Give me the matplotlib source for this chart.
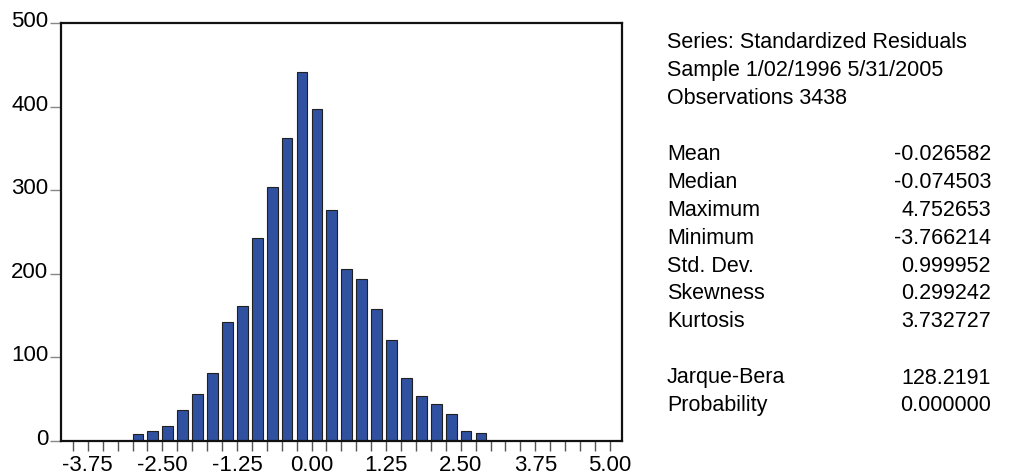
import matplotlib
matplotlib.use("Agg")
import matplotlib.pyplot as plt
import matplotlib.transforms as mtransforms
import numpy as np

plt.rcParams['font.family'] = ['Liberation Sans', 'DejaVu Sans']
plt.rcParams['axes.unicode_minus'] = False

# Histogram of standardized residuals, bins of width 0.25 (left edges)
bin_left = [-3.00, -2.75, -2.50, -2.25, -2.00, -1.75, -1.50, -1.25,
            -1.00, -0.75, -0.50, -0.25, 0.00, 0.25, 0.50, 0.75,
            1.00, 1.25, 1.50, 1.75, 2.00, 2.25, 2.50, 2.75]
counts = [8, 11, 17, 37, 56, 81, 142, 161,
          242, 304, 362, 441, 397, 276, 206, 193,
          158, 120, 75, 53, 44, 32, 11, 9]

xticks = [-3.75, -2.50, -1.25, 0.00, 1.25, 2.50, 3.75, 5.00]
yticks = [0, 100, 200, 300, 400, 500]

# Summary statistics panel
header = ["Series: Standardized Residuals",
          "Sample 1/02/1996 5/31/2005",
          "Observations 3438"]
stat_names = ["Mean", "Median", "Maximum", "Minimum", "Std. Dev.",
              "Skewness", "Kurtosis"]
stat_values = ["-0.026582", "-0.074503", "4.752653", "-3.766214",
               "0.999952", "0.299242", "3.732727"]
test_names = ["Jarque-Bera", "Probability"]
test_values = ["128.2191", "0.000000"]

fig = plt.figure(figsize=(10.16, 4.77), dpi=100)
ax = fig.add_axes([0.060, 0.0742, 0.552, 0.8755])

ax.bar(bin_left, counts, width=0.18, align='edge', color='#3050a0',
       edgecolor='#202020', linewidth=0.8)

ax.set_xlim(-4.2, 5.2)
ax.set_ylim(0, 500)
ax.set_xticks(xticks)
ax.set_xticklabels(["%.2f" % v for v in xticks])
ax.set_xticks(np.arange(-4.0, 5.01, 0.25), minor=True)
ax.set_yticks(yticks)

for s in ax.spines.values():
    s.set_linewidth(1.6)
    s.set_color('#111111')

ax.tick_params(axis='x', which='both', direction='out', length=7, width=1,
               color='#555555', labelsize=16, pad=3)
ax.tick_params(axis='y', direction='out', length=8, width=1,
               color='#888888', labelsize=16, pad=1)

# y labels sit a little above their tick
offset = mtransforms.ScaledTranslation(0, 5 / 100, fig.dpi_scale_trans)
for lbl in ax.get_yticklabels():
    lbl.set_transform(lbl.get_transform() + offset)

# text block on the right
x_left = 667 / 1016
x_right = 991 / 1016
fs = 15.5

def ypos(px):
    return 1 - px / 477

for i, line in enumerate(header):
    fig.text(x_left, ypos(43 + 27.6 * i), line, fontsize=fs, va='center')

for i, (n, v) in enumerate(zip(stat_names, stat_values)):
    fig.text(x_left, ypos(155 + 27.8 * i), n, fontsize=fs, va='center')
    fig.text(x_right, ypos(155 + 27.8 * i), v, fontsize=fs, va='center',
             ha='right')

for i, (n, v) in enumerate(zip(test_names, test_values)):
    fig.text(x_left, ypos(378 + 28 * i), n, fontsize=fs, va='center')
    fig.text(x_right, ypos(378 + 28 * i), v, fontsize=fs, va='center',
             ha='right')

fig.savefig("out.png", dpi=100)
